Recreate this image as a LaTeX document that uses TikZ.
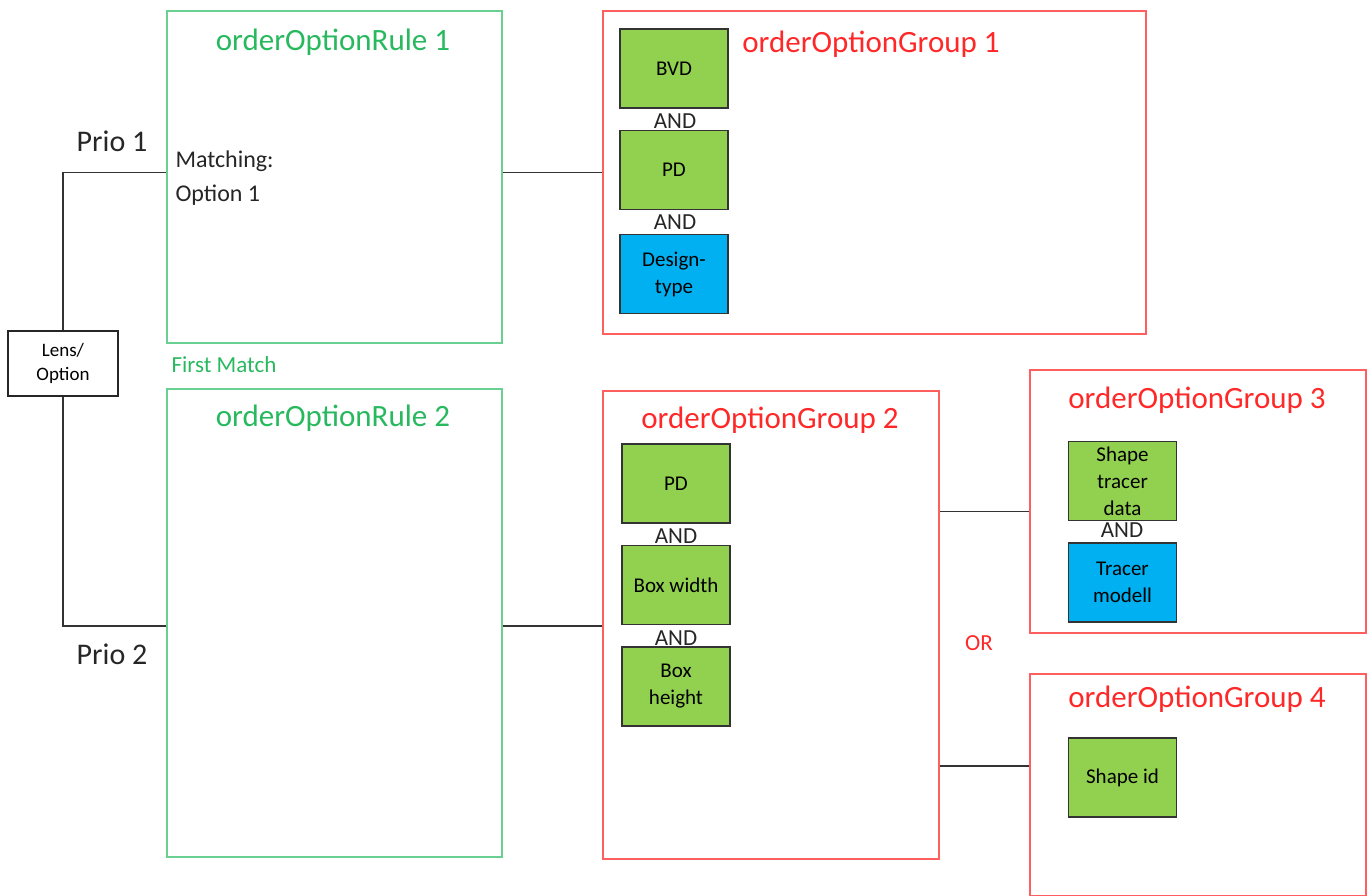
\documentclass[tikz,border=0pt]{standalone}
\usepackage{fontspec}
\setmainfont{Carlito}
\usetikzlibrary{positioning}

\definecolor{rulegreen}{RGB}{105,208,145}
\definecolor{titlegreen}{RGB}{40,185,95}
\definecolor{grpred}{RGB}{255,95,95}
\definecolor{titlered}{RGB}{255,40,40}
\definecolor{optgreen}{RGB}{146,208,80}
\definecolor{typeblue}{RGB}{0,176,240}

\tikzset{
  rulebox/.style={draw=rulegreen, line width=2pt, anchor=north west, minimum width=335pt, inner sep=0pt},
  groupbox/.style={draw=grpred, line width=2pt, anchor=north west, inner sep=0pt},
  optbox/.style={draw=black!80, line width=1.5pt, fill=optgreen, minimum width=108pt, minimum height=79pt,
    align=center, inner sep=0pt, font=\fontsize{21}{27}\selectfont},
  typebox/.style={optbox, fill=typeblue},
  andlbl/.style={inner sep=0pt, text=black!85, font=\fontsize{23}{23}\selectfont},
  ruletitle/.style={text=titlegreen, font=\fontsize{31}{31}\selectfont},
  grouptitle/.style={text=titlered, font=\fontsize{31}{31}\selectfont},
  link/.style={draw=black!80, line width=1.5pt}
}

\begin{document}
\begin{tikzpicture}[x=1pt,y=-1pt]
 \useasboundingbox (0,0) rectangle (1370,895);

% rules
 \node[rulebox, minimum height=332pt] (rule1) at (166,10) {};
 \node[rulebox, minimum height=468pt] (rule2) at (166,388) {};
 \node[ruletitle] (rt1) at (333,42) {orderOptionRule 1};
 \node[ruletitle] (rt2) at (333,418) {orderOptionRule 2};
 \node[anchor=west, align=left, text=black!85, font=\fontsize{24}{34}\selectfont] (match) at (172,178) {Matching:\\Option 1};
 \node[text=titlegreen, font=\fontsize{23}{23}\selectfont] (first) at (224,365) {First Match};

% lens
 \node[draw=black!85, line width=1.5pt, minimum width=110pt, minimum height=65pt, align=center,
   inner sep=0pt, font=\fontsize{19}{24}\selectfont] (lens) at (63,363.5) {Lens/\\Option};
 \node[text=black!85, font=\fontsize{30}{30}\selectfont] (prio1) at (112,141) {Prio 1};
 \node[text=black!85, font=\fontsize{30}{30}\selectfont] (prio2) at (112,654) {Prio 2};

% groups
 \node[groupbox, minimum width=543pt, minimum height=323pt] (g1) at (602,10) {};
 \node[groupbox, minimum width=336pt, minimum height=468pt] (g2) at (602,390) {};
 \node[groupbox, minimum width=336pt, minimum height=263pt] (g3) at (1029,369) {};
 \node[groupbox, minimum width=336pt, minimum height=222pt] (g4) at (1029,673) {};
 \node[grouptitle] (gt1) at (871,44) {orderOptionGroup 1};
 \node[grouptitle] (gt2) at (770,420) {orderOptionGroup 2};
 \node[grouptitle] (gt3) at (1197,400) {orderOptionGroup 3};
 \node[grouptitle] (gt4) at (1197,699) {orderOptionGroup 4};

% group 1 options
 \node[optbox] (bvd) at (674,68.5) {BVD};
 \node[optbox] (pd1) at (674,170) {PD};
 \node[typebox] (design) at (674,274) {Design-\\type};
 \node[andlbl] (and1) at (675,121) {AND};
 \node[andlbl] (and2) at (675,222) {AND};

% group 2 options
 \node[optbox] (pd2) at (676,483.5) {PD};
 \node[optbox] (bwidth) at (676,585) {Box width};
 \node[optbox] (bheight) at (676,686.5) {Box\\height};
 \node[andlbl] (and3) at (676,536) {AND};
 \node[andlbl] (and4) at (676,638) {AND};

% group 3 and 4 options
 \node[optbox] (tracerdata) at (1122.5,481) {Shape\\tracer\\data};
 \node[typebox] (tracermod) at (1122.5,582.5) {Tracer\\modell};
 \node[andlbl] (and5) at (1122,530) {AND};
 \node[optbox] (shapeid) at (1122.5,777.5) {Shape id};
 \node[text=titlered, font=\fontsize{23}{23}\selectfont] (or) at (979,643) {OR};

% connectors
 \coordinate (j1) at (g1.west);
 \coordinate (j2) at ([yshift=-1pt]g2.west);
 \coordinate (j3) at ([yshift=-10pt]g3.west);
 \coordinate (j4) at ([yshift=19pt]g4.west);
 \draw[link] (lens.north) |- (j1 -| rule1.west);
 \draw[link] (lens.south) |- (j2 -| rule2.west);
 \draw[link] (j1 -| rule1.east) -- (j1);
 \draw[link] (j2 -| rule2.east) -- (j2);
 \draw[link] (j3 -| g2.east) -- (j3);
 \draw[link] (j4 -| g2.east) -- (j4);

\end{tikzpicture}
\end{document}
